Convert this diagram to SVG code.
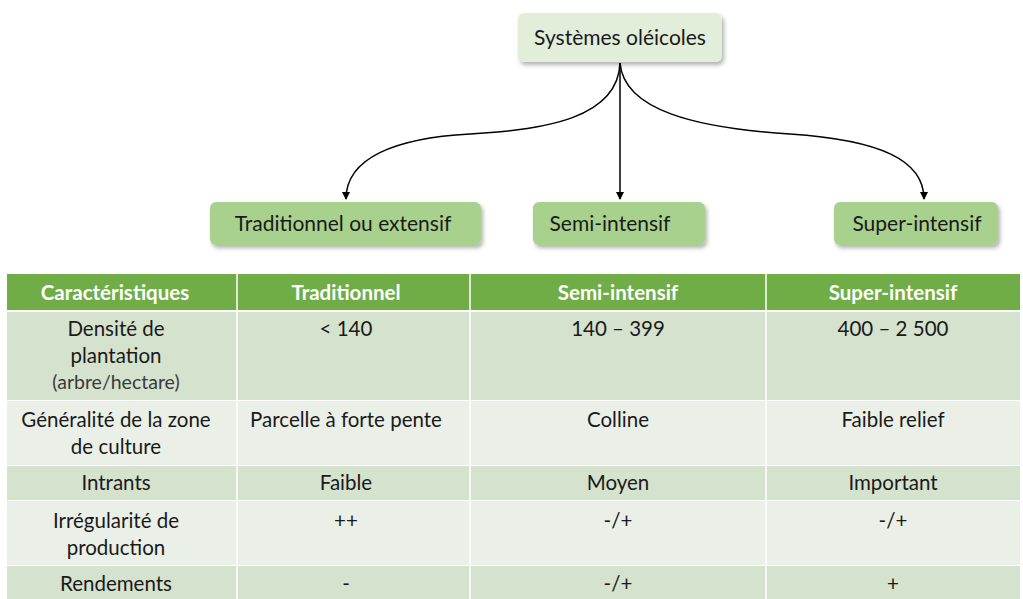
<svg xmlns="http://www.w3.org/2000/svg" width="1023" height="599" viewBox="0 0 1023 599">
<defs>
<style>
text{font-family:"Lato","Open Sans","Liberation Sans",sans-serif;fill:#1a1a1a;text-anchor:middle}
.node text{font-size:21px}
.th{font-size:20.5px;font-weight:bold;fill:#fff}
.td{font-size:20.5px}
.sm{font-size:19.5px;fill:#3a3a3a}
.dark{fill:#D5E2CD}
.light{fill:#EAF0E7}
.conn{fill:none;stroke:#000;stroke-width:1.5}
</style>
<filter id="sh" x="-10%" y="-20%" width="130%" height="160%">
<feDropShadow dx="2" dy="3" stdDeviation="2" flood-color="#000" flood-opacity="0.3"/>
</filter>
<marker id="arr" markerWidth="8" markerHeight="8" refX="7" refY="4" orient="auto" markerUnits="userSpaceOnUse">
<path d="M0,0 L8,4 L0,8 Z" fill="#000"/>
</marker>
</defs>
<rect width="1023" height="599" fill="#fff"/>
<g id="connectors">
<path class="conn" d="M620,63 C618,118 545,130 470,134 C395,138 346,158 346,199" marker-end="url(#arr)"/>
<path class="conn" d="M620,63 L620,199" marker-end="url(#arr)"/>
<path class="conn" d="M620,63 C624,110 695,128 790,134 C880,140 924,160 924,199" marker-end="url(#arr)"/>
</g>
<g id="node-systemes" class="node">
<rect x="518" y="13" width="204" height="49" rx="6" fill="#E2EDDA" filter="url(#sh)"/>
<text x="620" y="45">Systèmes oléicoles</text>
</g>
<g id="node-traditionnel" class="node">
<rect x="210" y="202" width="271" height="43" rx="6" fill="#A9D18E" filter="url(#sh)"/>
<text x="343" y="231">Traditionnel ou extensif</text>
</g>
<g id="node-semi" class="node">
<rect x="533" y="202" width="172" height="43" rx="6" fill="#A9D18E" filter="url(#sh)"/>
<text x="610" y="231">Semi-intensif</text>
</g>
<g id="node-super" class="node">
<rect x="834" y="202" width="164" height="43" rx="6" fill="#A9D18E" filter="url(#sh)"/>
<text x="917" y="231">Super-intensif</text>
</g>
<g id="table">
<rect x="7" y="274" width="1013" height="36" fill="#70AD47"/>
<rect class="dark" x="7" y="312" width="1013" height="88"/>
<rect class="light" x="7" y="401" width="1013" height="64"/>
<rect class="dark" x="7" y="466" width="1013" height="34"/>
<rect class="light" x="7" y="501" width="1013" height="64"/>
<rect class="dark" x="7" y="566" width="1013" height="33"/>
<g stroke="#fff" stroke-width="1.5">
<line x1="237" y1="274" x2="237" y2="599"/>
<line x1="470" y1="274" x2="470" y2="599"/>
<line x1="766" y1="274" x2="766" y2="599"/>
</g>
<text class="th" x="115" y="300">Caractéristiques</text>
<text class="th" x="346" y="300">Traditionnel</text>
<text class="th" x="618" y="300">Semi-intensif</text>
<text class="th" x="893" y="300">Super-intensif</text>
<text class="td" x="116" y="336">Densité de</text>
<text class="td" x="116" y="363">plantation</text>
<text class="sm" x="116" y="389">(arbre/hectare)</text>
<text class="td" x="346" y="336">&lt; 140</text>
<text class="td" x="618" y="336">140 – 399</text>
<text class="td" x="893" y="336">400 – 2 500</text>
<text class="td" x="116" y="427">Généralité de la zone</text>
<text class="td" x="116" y="454">de culture</text>
<text class="td" x="346" y="427">Parcelle à forte pente</text>
<text class="td" x="618" y="427">Colline</text>
<text class="td" x="893" y="427">Faible relief</text>
<text class="td" x="116" y="490">Intrants</text>
<text class="td" x="346" y="490">Faible</text>
<text class="td" x="618" y="490">Moyen</text>
<text class="td" x="893" y="490">Important</text>
<text class="td" x="116" y="528">Irrégularité de</text>
<text class="td" x="116" y="555">production</text>
<text class="td" x="346" y="528">++</text>
<text class="td" x="618" y="528">-/+</text>
<text class="td" x="893" y="528">-/+</text>
<text class="td" x="116" y="591">Rendements</text>
<text class="td" x="346" y="591">-</text>
<text class="td" x="618" y="591">-/+</text>
<text class="td" x="893" y="591">+</text>
</g>
</svg>
